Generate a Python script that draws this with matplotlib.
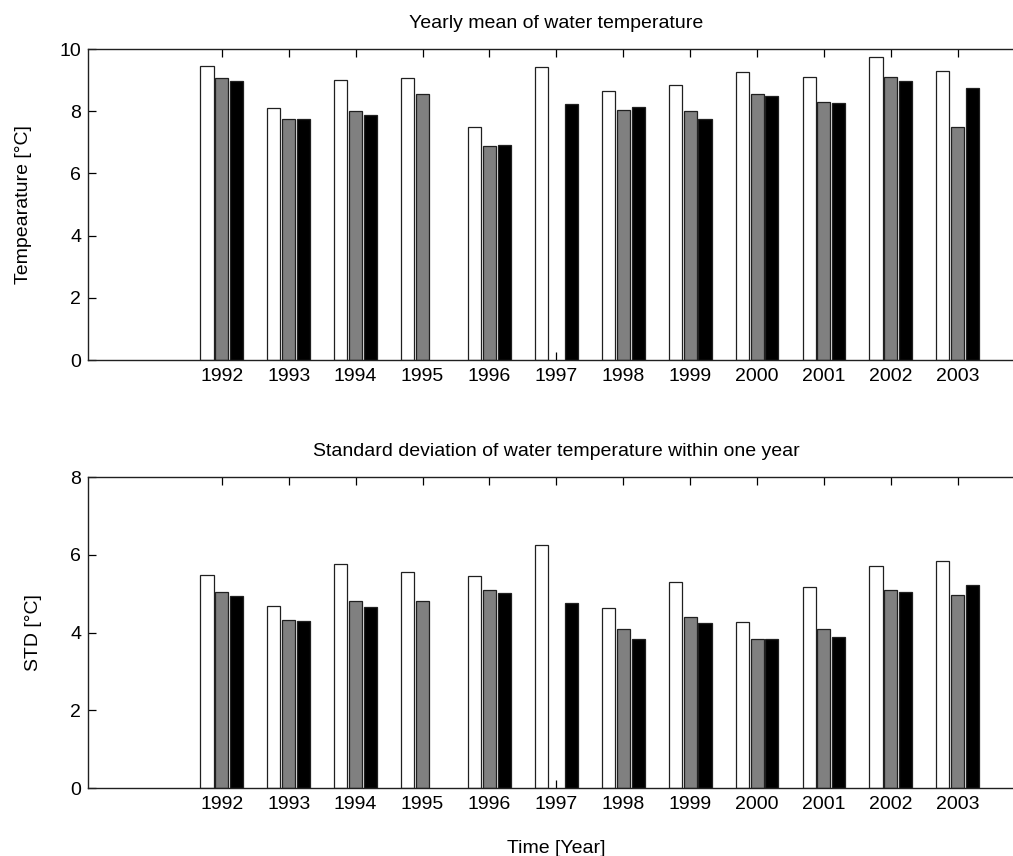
import numpy as np
import matplotlib
matplotlib.use("Agg")
import matplotlib.pyplot as plt

plt.rcParams['font.family'] = ['Liberation Sans', 'DejaVu Sans']

# Years and the three series per year (nan = no bar)
years = np.arange(1992, 2004)

mean_white = [9.46, 8.09, 9.00, 9.06, 7.48, 9.41, 8.65, 8.85, 9.26, 9.10, 9.76, 9.30]
mean_gray = [9.06, 7.74, 8.00, 8.54, 6.88, np.nan, 8.05, 8.00, 8.54, 8.30, 9.10, 7.48]
mean_black = [8.96, 7.74, 7.89, np.nan, 6.92, 8.24, 8.15, 7.74, 8.50, 8.25, 8.96, 8.76]

std_white = [5.49, 4.68, 5.77, 5.57, 5.46, 6.26, 4.64, 5.29, 4.28, 5.17, 5.70, 5.85]
std_gray = [5.05, 4.32, 4.81, 4.81, 5.09, np.nan, 4.08, 4.40, 3.84, 4.08, 5.09, 4.97]
std_black = [4.94, 4.29, 4.65, np.nan, 5.01, 4.76, 3.84, 4.24, 3.84, 3.88, 5.05, 5.22]

colors = ['white', '#808080', 'black']
offsets = [-0.222, 0.0, 0.222]
bar_w = 0.195

fig = plt.figure(figsize=(10.13, 8.56), dpi=100)
ax1 = fig.add_axes([0.0869, 0.5794, 0.9246, 0.3633])
ax2 = fig.add_axes([0.0869, 0.0794, 0.9246, 0.3633])


def draw(ax, series, ymax, title, ylabel):
    for vals, c, off in zip(series, colors, offsets):
        ax.bar(years + off, vals, width=bar_w, color=c, edgecolor='#202020', linewidth=0.9)
    ax.set_axisbelow(True)
    ax.set_xlim(1990, 2004)
    ax.set_ylim(0, ymax)
    ax.set_xticks(years)
    ax.set_xticklabels([str(y) for y in years])
    ax.set_yticks(np.arange(0, ymax + 1, 2))
    ax.tick_params(direction='in', length=5.8, width=0.9, top=True, right=True,
                   labelsize=14, pad=5)
    ax.tick_params(axis='x', pad=6)
    for s in ax.spines.values():
        s.set_linewidth(1.0)
        s.set_color('#202020')
    ax.set_title(title, fontsize=14, pad=15)
    ax.set_ylabel(ylabel, fontsize=14, labelpad=20)


draw(ax1, [mean_white, mean_gray, mean_black], 10,
     'Yearly mean of water temperature', 'Tempearature [°C]')
draw(ax2, [std_white, std_gray, std_black], 8,
     'Standard deviation of water temperature within one year', 'STD [°C]')
ax2.set_xlabel('Time [Year]', fontsize=14, labelpad=19)

fig.savefig('out.png', dpi=100)
